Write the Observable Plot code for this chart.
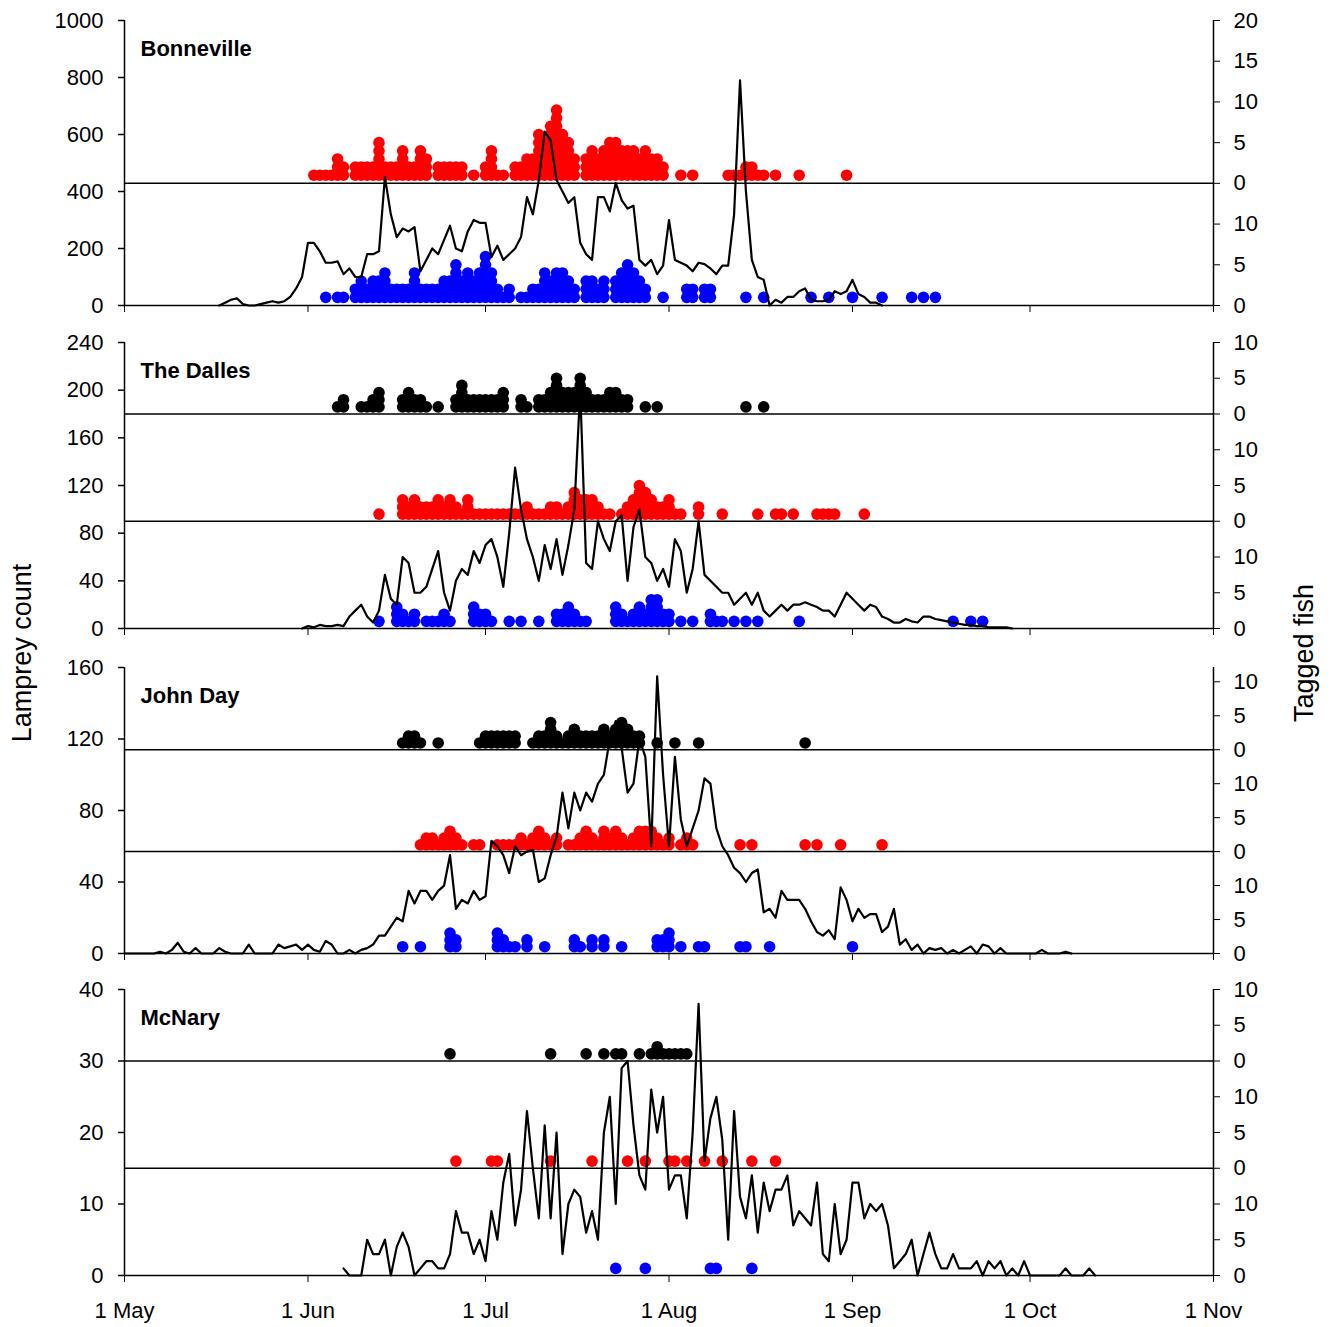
<!DOCTYPE html>
<html>
<head>
<meta charset="utf-8">
<script src="https://cdn.jsdelivr.net/npm/d3@7"></script>
<script src="https://cdn.jsdelivr.net/npm/@observablehq/plot@0.6"></script>
<style>
  body { margin: 0; background: white; font-family: "Liberation Sans", Arial, sans-serif; }
  #wrap { position: relative; width: 1333px; height: 1327px; }
  #wrap svg { position: absolute; left: 0; overflow: visible; }
  .lab { position: absolute; font-size: 27px; white-space: nowrap; transform: translate(-50%, -50%) rotate(-90deg); }
</style>
</head>
<body>
<div id="wrap">
  <div class="lab" style="left:22px; top:653px;">Lamprey count</div>
  <div class="lab" style="left:1304px; top:653px;">Tagged fish</div>
</div>
<script>
// x = days since 1 May
const monthDays = [0, 31, 61, 92, 123, 153, 184]
const monthLabels = ["1 May", "1 Jun", "1 Jul", "1 Aug", "1 Sep", "1 Oct", "1 Nov"]

// ---- Bonneville
const bonStart = 16
const bonCount = [0,10,20,25,5,0,0,5,10,15,10,15,30,60,100,
  220,220,190,150,150,155,110,130,100,100,180,180,190,450,320,240,270,260,275,120,160,200,180,230,280,200,190,260,300,290,290,170,210,160,180,200,240,380,320,440,610,580,440,400,360,380,220,180,160,380,380,330,430,370,340,350,160,140,160,110,140,300,160,150,140,120,150,145,130,110,140,140,320,790,400,160,100,90,0,20,10,30,30,50,60,20,15,15,20,50,40,50,90,40,30,10,10,0]
const bonRed = [[32,1],[33,1],[34,1],[35,1],[36,3],[37,2],[39,2],[40,2],[41,2],[42,2],[43,5],[44,2],[45,2],[46,2],[47,4],[48,2],[49,2],[50,4],[51,3],[53,2],[54,2],[55,2],[56,2],[57,2],[59,1],[61,2],[62,4],[63,1],[64,1],[66,2],[67,2],[68,3],[69,3],[70,6],[71,5],[72,7],[73,9],[74,6],[75,5],[76,3],[78,3],[79,4],[80,3],[81,4],[82,5],[83,5],[84,4],[85,4],[86,4],[87,3],[88,4],[89,3],[90,3],[91,2],[94,1],[96,1],[102,1],[103,1],[104,1],[105,2],[106,2],[107,1],[108,1],[110,1],[114,1],[122,1]]
const bonBlue = [[34,1],[36,1],[37,1],[39,2],[40,3],[41,2],[42,3],[43,3],[44,4],[45,2],[46,2],[47,2],[48,2],[49,4],[50,2],[51,2],[52,2],[53,2],[54,3],[55,3],[56,5],[57,3],[58,4],[59,3],[60,4],[61,6],[62,4],[63,2],[64,1],[65,2],[67,1],[68,1],[69,2],[70,2],[71,4],[72,3],[73,4],[74,4],[75,3],[76,2],[78,3],[79,3],[80,2],[81,3],[83,3],[84,4],[85,5],[86,4],[87,3],[88,2],[91,1],[95,2],[96,2],[98,2],[99,2],[105,1],[108,1],[116,1],[119,1],[123,1],[128,1],[133,1],[135,1],[137,1]]

// ---- The Dalles
const tdStart = 30
const tdCount = [0,2,1,3,2,2,3,2,
  10,15,20,10,5,15,45,25,20,60,55,30,30,35,50,65,30,15,40,50,45,65,55,70,75,60,35,80,135,100,75,60,40,70,50,75,45,70,100,200,55,50,90,75,65,90,95,40,85,100,60,55,40,50,35,75,65,30,50,90,45,40,35,30,30,20,25,30,20,30,15,10,15,20,15,20,20,22,20,18,15,15,10,20,30,25,20,15,20,18,10,8,5,5,8,6,5,10,10,8,7,6,5,4,3,3,2,2,1,1,1,1,0]
const tdBlack = [[36,1],[37,2],[40,1],[41,1],[42,2],[43,3],[47,2],[48,3],[49,2],[50,2],[51,1],[53,1],[56,2],[57,4],[58,2],[59,2],[60,2],[61,2],[62,2],[63,2],[64,3],[67,2],[68,1],[70,2],[71,2],[72,3],[73,5],[74,3],[75,3],[76,3],[77,5],[78,3],[79,2],[80,2],[81,2],[82,3],[83,3],[84,2],[85,2],[88,1],[90,1],[105,1],[108,1]]
const tdRed = [[43,1],[47,3],[48,2],[49,3],[50,2],[51,2],[52,2],[53,3],[54,2],[55,3],[56,2],[57,1],[58,3],[59,1],[60,1],[61,1],[62,1],[63,1],[64,1],[65,1],[66,1],[67,1],[68,2],[69,1],[70,1],[71,1],[72,2],[73,2],[74,1],[75,2],[76,4],[77,3],[78,3],[79,3],[80,2],[81,1],[82,1],[84,1],[85,2],[86,3],[87,5],[88,4],[89,3],[90,2],[91,2],[92,3],[93,1],[94,1],[97,2],[101,1],[107,1],[110,1],[111,1],[113,1],[117,1],[118,1],[119,1],[120,1],[125,1]]
const tdBlue = [[43,1],[46,3],[47,2],[48,1],[49,2],[51,1],[52,1],[53,1],[54,2],[55,1],[59,3],[60,2],[61,2],[62,1],[65,1],[67,1],[70,1],[73,2],[74,2],[75,3],[76,2],[77,1],[78,1],[83,3],[84,2],[85,1],[86,2],[87,3],[88,2],[89,4],[90,4],[91,2],[92,2],[94,1],[96,1],[99,2],[100,1],[101,1],[103,1],[105,1],[107,1],[114,1],[140,1],[143,1],[145,1]]

// ---- John Day
const jdStart = 0
const jdCount = [0,0,0,0,0,0,1,0,2,6,1,0,3,0,0,0,3,1,0,0,0,5,0,0,0,0,5,3,4,5,2,5,2,1,7,5,0,0,2,0,2,3,5,10,
  10,15,20,18,35,28,35,35,30,35,38,55,25,30,28,35,30,32,63,60,55,45,60,55,57,58,40,42,55,65,90,70,90,80,90,85,95,100,120,130,115,90,95,120,110,60,155,100,60,110,75,60,70,80,98,95,70,60,55,48,45,40,45,47,23,25,20,35,30,30,30,25,18,12,10,13,8,37,30,18,25,20,22,22,12,15,25,5,8,2,5,0,3,2,3,0,2,0,2,4,0,5,4,0,3,0,0,0,0,0,0,2,0,0,0,1,0]
const jdBlack = [[47,1],[48,2],[49,2],[50,1],[53,1],[60,1],[61,2],[62,2],[63,2],[64,2],[65,2],[66,2],[69,1],[70,2],[71,2],[72,4],[73,2],[74,1],[75,2],[76,3],[77,2],[78,2],[79,2],[80,2],[81,3],[82,2],[83,3],[84,4],[85,3],[86,2],[87,2],[90,1],[93,1],[97,1],[115,1]]
const jdRed = [[50,1],[51,2],[52,2],[53,1],[54,2],[55,3],[56,2],[57,1],[59,1],[60,1],[63,1],[64,1],[65,1],[66,1],[67,2],[68,1],[69,2],[70,3],[71,2],[72,1],[73,2],[75,1],[76,1],[77,2],[78,3],[79,2],[80,1],[81,3],[82,2],[83,3],[84,2],[85,1],[86,2],[87,3],[88,3],[89,3],[90,2],[91,1],[92,2],[94,1],[95,2],[96,1],[104,1],[106,1],[115,1],[117,1],[121,1],[128,1]]
const jdBlue = [[47,1],[50,1],[55,3],[56,2],[63,3],[64,2],[65,1],[66,1],[68,2],[71,1],[76,2],[77,1],[79,2],[81,2],[84,1],[90,2],[91,2],[92,3],[94,1],[97,1],[98,1],[104,1],[105,1],[109,1],[123,1]]

// ---- McNary
const mcStart = 37
const mcCount = [1,0,0,0,5,3,3,5,0,4,6,4,0,1,2,2,1,1,3,9,6,6,3,5,2,9,5,13,17,7,12,23,15,8,21,8,20,3,10,12,11,6,9,5,20,25,10,29,30,21,14,12,26,20,25,12,14,14,8,20,38,
  16,22,25,19,5,23,11,8,14,6,13,9,12,12,14,7,9,8,7,13,3,2,10,3,5,13,13,8,10,9,10,7,1,2,3,5,0,3,6,3,1,1,3,1,1,1,2,0,2,1,2,0,1,0,2,0,0,0,0,0,0,1,0,0,0,1,0]
const mcBlack = [[55,1],[72,1],[78,1],[81,1],[83,1],[84,1],[87,1],[89,1],[90,2],[91,1],[92,1],[93,1],[94,1],[95,1]]
const mcRed = [[56,1],[62,1],[63,1],[72,1],[79,1],[85,1],[88,1],[92,1],[93,1],[95,1],[98,1],[101,1],[106,1],[110,1]]
const mcBlue = [[83,1],[88,1],[99,1],[100,1],[106,1]]

const panels = [
  {name: "Bonneville", start: bonStart, counts: bonCount, max: 1000, leftTicks: d3.range(0, 1001, 200), unit: 1000 * 3 / 105,
   bands: [{base: 0, ticks: [0, 5, 10], dots: bonBlue, color: "#0000ff"}, {base: 1000 * 45 / 105, ticks: [0, 5, 10, 15, 20], dots: bonRed, color: "#ff0000"}],
   top: 0, mt: 20, h: 322},
  {name: "The Dalles", start: tdStart, counts: tdCount, max: 240, leftTicks: d3.range(0, 241, 40), unit: 6,
   bands: [{base: 0, ticks: [0, 5, 10], dots: tdBlue, color: "#0000ff"}, {base: 90, ticks: [0, 5, 10], dots: tdRed, color: "#ff0000"}, {base: 180, ticks: [0, 5, 10], dots: tdBlack, color: "#000"}],
   top: 322, mt: 20, h: 323},
  {name: "John Day", start: jdStart, counts: jdCount, max: 160, leftTicks: d3.range(0, 161, 40), unit: 3.8,
   bands: [{base: 0, ticks: [0, 5, 10], dots: jdBlue, color: "#0000ff"}, {base: 57, ticks: [0, 5, 10], dots: jdRed, color: "#ff0000"}, {base: 114, ticks: [0, 5, 10], dots: jdBlack, color: "#000"}],
   top: 645, mt: 22, h: 326},
  {name: "McNary", start: mcStart, counts: mcCount, max: 40, leftTicks: d3.range(0, 41, 10), unit: 1,
   bands: [{base: 0, ticks: [0, 5, 10], dots: mcBlue, color: "#0000ff"}, {base: 15, ticks: [0, 5, 10], dots: mcRed, color: "#ff0000"}, {base: 30, ticks: [0, 5, 10], dots: mcBlack, color: "#000"}],
   top: 971, mt: 18, h: 356}
]

panels.forEach((p, i) => {
  const last = i === panels.length - 1
  const line = p.counts.map((v, j) => ({d: p.start + j, v}))
  const rightTicks = p.bands.flatMap(b => b.ticks.map(t => ({pos: b.base + t * p.unit, label: t})))
  const rightLabel = new Map(rightTicks.map(t => [t.pos, t.label]))
  const dotMarks = p.bands.map(b => Plot.dot(
    b.dots.flatMap(([d, c]) => d3.range(1, c + 1).map(k => ({d, y: b.base + k * p.unit}))),
    {x: "d", y: "y", r: 5.8, fill: b.color, stroke: "none"}))

  const chart = Plot.plot({
    width: 1333,
    height: p.h,
    marginLeft: 124,
    marginRight: 120,
    marginTop: p.mt,
    marginBottom: p.h - p.mt - 286 + (i === 0 ? 1 : 0),
    style: {fontFamily: "Liberation Sans, Arial, sans-serif", fontSize: "22px", color: "black", background: "transparent"},
    x: {domain: [0, 184]},
    y: {domain: [0, p.max]},
    marks: [
      ...dotMarks,
      Plot.ruleY(p.bands.map(b => b.base), {stroke: "black", strokeWidth: 1.5}),
      Plot.ruleX([0, 184], {stroke: "black", strokeWidth: 1.5}),
      Plot.line(line, {x: "d", y: "v", stroke: "black", strokeWidth: 2.2}),
      Plot.axisY({ticks: p.leftTicks, tickSize: 6, tickPadding: 15, label: null, strokeWidth: 1.5, tickFormat: d => String(d)}),
      Plot.axisY(rightTicks.map(t => t.pos), {anchor: "right", tickSize: 6, tickPadding: 14, label: null,
        tickFormat: v => rightLabel.get(v)}),
      Plot.axisX({ticks: monthDays, tickSize: 7, tickPadding: 20, label: null,
        tickFormat: last ? (d => monthLabels[monthDays.indexOf(d)]) : (() => "")}),
      Plot.text([p.name], {frameAnchor: "top-left", dx: 16, dy: 28, textAnchor: "start", lineAnchor: "middle",
        fontWeight: "bold", fontSize: 22})
    ]
  })
  chart.style.top = p.top + "px"
  document.getElementById("wrap").appendChild(chart)
})
</script>
</body>
</html>
